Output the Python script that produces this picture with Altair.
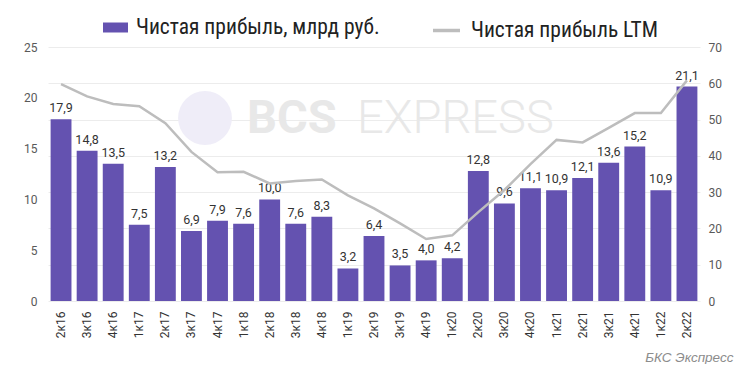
import altair as alt
import pandas as pd

quarters = ["2к16", "3к16", "4к16", "1к17", "2к17", "3к17", "4к17", "1к18", "2к18",
            "3к18", "4к18", "1к19", "2к19", "3к19", "4к19", "1к20", "2к20", "3к20",
            "4к20", "1к21", "2к21", "3к21", "4к21", "1к22", "2к22"]
profit = [17.9, 14.8, 13.5, 7.5, 13.2, 6.9, 7.9, 7.6, 10.0, 7.6, 8.3, 3.2, 6.4,
          3.5, 4.0, 4.2, 12.8, 9.6, 11.1, 10.9, 12.1, 13.6, 15.2, 10.9, 21.1]
ltm = [59.8, 56.4, 54.3, 53.7, 49.0, 41.1, 35.5, 35.6, 32.4, 33.1, 33.5, 29.1, 25.5,
       21.4, 17.1, 18.1, 24.5, 30.6, 37.7, 44.4, 43.7, 47.7, 51.8, 51.8, 60.8]
left_ticks = [0, 5, 10, 15, 20, 25]
right_ticks = [0, 10, 20, 30, 40, 50, 60, 70]

BAR_NAME = "Чистая прибыль, млрд руб."
LINE_NAME = "Чистая прибыль LTM"

df = pd.DataFrame({
    "q": quarters,
    "profit": profit,
    "ltm": ltm,
    "label": [f"{v:.1f}".replace(".", ",") for v in profit],
    "s1": BAR_NAME,
    "s2": LINE_NAME,
})

W, H = 652, 254
FONT = "Roboto"
LEG_FONT = "Liberation Sans Narrow, Roboto Condensed, Roboto"
LEG_SIZE = 21.5

x_enc = alt.X("q:N", sort=quarters, title=None,
              scale=alt.Scale(paddingInner=0.2, paddingOuter=0.1),
              axis=alt.Axis(labelAngle=270, labelFontSize=12, labelColor="#333333",
                            labelFont=FONT, ticks=False, domain=False, labelPadding=10,
                            grid=False))

left_axis = alt.Axis(values=left_ticks, grid=False, ticks=False, domain=False,
                     labelFontSize=12, labelColor="#595959", labelFont=FONT,
                     labelPadding=11)
left_scale = alt.Scale(domain=[0, 25], nice=False)

base = alt.Chart(df)

wm = alt.Chart(pd.DataFrame({"k": [0]}))
wm_circle = wm.mark_point(filled=True, shape="circle", color="#efedf8", opacity=1).encode(
    x=alt.value(157), y=alt.value(71), size=alt.value(2900))
wm_bcs = wm.mark_text(align="left", baseline="alphabetic", fontSize=47, fontWeight="bold",
                      font=FONT, color="#e8e8e8").encode(
    x=alt.value(199), y=alt.value(86), text=alt.value("BCS"))
wm_exp = wm.mark_text(align="left", baseline="alphabetic", fontSize=47, fontWeight=300,
                      font=FONT, color="#e8e8e8").encode(
    x=alt.value(309), y=alt.value(86), text=alt.value("EXPRESS"))

bars = base.mark_bar(color="#6452b0").encode(
    x=x_enc,
    y=alt.Y("profit:Q", title=None, scale=left_scale, axis=left_axis),
    color=alt.Color("s1:N", title=None,
                    scale=alt.Scale(domain=[BAR_NAME], range=["#6452b0"]),
                    legend=alt.Legend(orient="none", legendX=55, legendY=-32,
                                      symbolType="M-1,-0.4L1,-0.4L1,0.4L-1,0.4Z",
                                      symbolSize=625, symbolStrokeWidth=0,
                                      labelFont=LEG_FONT, labelFontSize=LEG_SIZE,
                                      labelColor="#222222", labelLimit=400,
                                      labelOffset=8)),
)

labels = base.mark_text(baseline="bottom", dy=-4, fontSize=12.5, font=FONT,
                        color="#333333").encode(
    x=x_enc,
    y=alt.Y("profit:Q", title=None, scale=left_scale, axis=left_axis),
    text="label:N",
)

left_layer = alt.layer(wm_circle, wm_bcs, wm_exp, bars, labels)

line = base.mark_line(strokeWidth=2.5).encode(
    x=x_enc,
    y=alt.Y("ltm:Q", title=None,
            scale=alt.Scale(domain=[0, 70], nice=False),
            axis=alt.Axis(orient="right", values=right_ticks, grid=True,
                          gridColor="#ececec", gridWidth=1, ticks=False, domain=False,
                          labelFontSize=12, labelColor="#595959", labelFont=FONT,
                          labelPadding=8)),
    stroke=alt.Stroke("s2:N", title=None,
                      scale=alt.Scale(domain=[LINE_NAME], range=["#bdbdbd"]),
                      legend=alt.Legend(orient="none", legendX=383, legendY=-32,
                                        symbolType="stroke", symbolSize=729,
                                        symbolStrokeWidth=3.5,
                                        labelFont=LEG_FONT, labelFontSize=LEG_SIZE,
                                        labelColor="#222222", labelLimit=400,
                                        labelOffset=9)),
)

chart = alt.layer(left_layer, line).resolve_scale(
    y="independent", color="independent", stroke="independent"
).properties(
    width=W, height=H,
    autosize=alt.AutoSizeParams(type="none"),
    padding={"left": 40, "top": 39, "right": 43, "bottom": 63},
    background="white",
    title=alt.TitleParams("БКС Экспресс", orient="bottom", anchor="end",
                          fontStyle="italic", fontWeight="normal", fontSize=13.5,
                          font="Liberation Sans, Roboto", color="#8c8c8c", offset=13,
                          dx=12),
).configure_view(stroke=None)

chart.save("out.html", embed_options={"renderer": "svg", "actions": False})
